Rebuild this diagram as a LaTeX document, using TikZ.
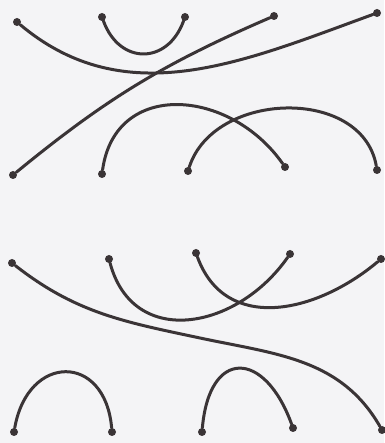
\documentclass[tikz,border=0pt]{standalone}
\usepackage{tikz}
\definecolor{murekkep}{HTML}{3A3436}
\definecolor{kagit}{HTML}{F4F4F6}

\begin{document}
\begin{tikzpicture}[x=1pt, y=1pt,
  nokta/.style={circle,fill=murekkep,inner sep=0pt,minimum size=8pt},
  ip/.style={draw=murekkep,line width=3pt,line cap=round}]
\fill[kagit] (0,0) rectangle (384,443);
\useasboundingbox (0,0) rectangle (384,443);
% ust diyagram
\foreach \n/\x/\y in {t1/17/421, t2/102/426, t3/185/426, t4/274/427, t5/377/430,
                      b1/13/268, b2/102/269, b3/188/272, b4/285/276, b5/377/273}
  \node[nokta] (\n) at (\x,\y) {};
\draw[ip] (t2) to[out=-70,in=-110,looseness=1.5] (t3);
\draw[ip] (t1) to[out=-40,in=200] (t5);
\draw[ip] (t4) to[bend right=8] (b1);
\draw[ip] (b2) to[out=82,in=125,looseness=1.3] (b4);
\draw[ip] (b3) to[out=72,in=100,looseness=1.1] (b5);
% alt diyagram
\foreach \n/\x/\y in {u1/12/180, u2/109/184, u3/196/190, u4/290/189, u5/381/184,
                      l1/14/11, l2/112/11, l3/202/11, l4/293/15, l5/382/13}
  \node[nokta] (\n) at (\x,\y) {};
\coordinate (orta) at (200,105);
\draw[ip] (u1) to[out=-38,in=168] (orta) to[out=-12,in=120] (l5);
\draw[ip] (u2) to[out=-75,in=-125,looseness=1.28] (u4);
\draw[ip] (u3) to[out=-70,in=-140,looseness=1.15] (u5);
\draw[ip] (l1) to[out=80,in=95,looseness=2] (l2);
\draw[ip] (l3) to[out=85,in=110,looseness=2.28] (l4);
\end{tikzpicture}
\end{document}
